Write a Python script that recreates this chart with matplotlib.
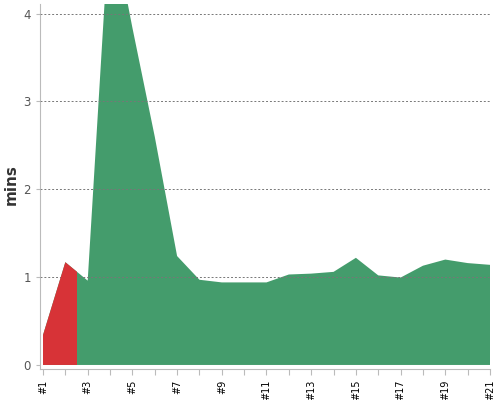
import matplotlib
matplotlib.use("Agg")
import matplotlib.pyplot as plt
from matplotlib.patches import Rectangle

# run numbers and durations (minutes)
runs = list(range(1, 22))
mins = [0.34, 1.17, 0.96, 5.15, 3.84, 2.6, 1.24, 0.97, 0.94, 0.94, 0.94,
        1.03, 1.04, 1.06, 1.22, 1.02, 0.995, 1.13, 1.20, 1.16, 1.14]
labels = ["#%d" % r if r % 2 == 1 else "" for r in runs]
split_at = 2.5  # red part ends here

green = "#449c6c"
red = "#d73337"

fig = plt.figure(figsize=(5, 4), dpi=100)
ax = fig.add_axes([0.08, 0.0775, 0.9, 0.9125])

ax.fill_between(runs, mins, 0, color=green, linewidth=0, zorder=2)
red_part = ax.fill_between(runs, mins, 0, color=red, linewidth=0, zorder=3)
clip = Rectangle((runs[0], 0), split_at - runs[0], max(mins), transform=ax.transData)
red_part.set_clip_path(clip)

ax.set_xlim(0.866, 21)
ax.set_ylim(-0.046, 4.11)
ax.set_yticks([0, 1, 2, 3, 4])
ax.set_xticks(runs)
ax.set_xticklabels(labels, rotation=90, fontsize=7, color="black")
ax.tick_params(axis="y", labelsize=8.5, colors="#555555", length=3, color="#bbbbbb")
ax.tick_params(axis="x", length=4, color="#bbbbbb")
for lab in ax.get_yticklabels():
    lab.set_color("#555555")

ax.grid(axis="y", linestyle=(0, (2, 2)), color="#777777", linewidth=0.7)
ax.set_axisbelow(False)
ax.get_ygridlines()[0].set_visible(False)
for s in ["top", "right"]:
    ax.spines[s].set_visible(False)
for s in ["left", "bottom"]:
    ax.spines[s].set_color("#bbbbbb")

ax.set_ylabel("mins", fontsize=11, color="#333333", fontweight="semibold")
ax.yaxis.set_label_coords(-0.047, 0.505)

fig.savefig("out.png", dpi=100)
